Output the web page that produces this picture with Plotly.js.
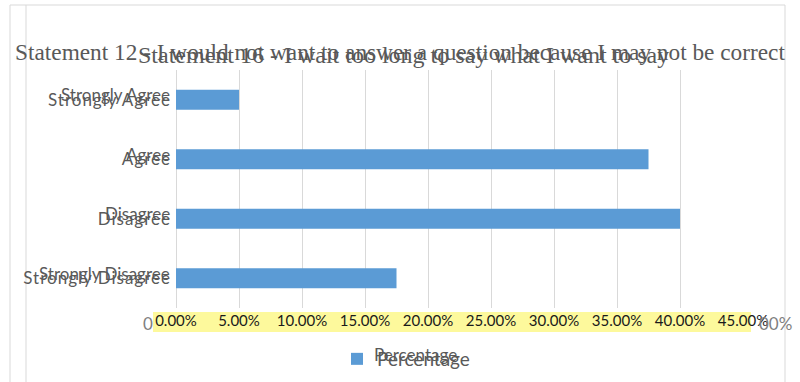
<!DOCTYPE html>
<html>
<head>
<meta charset="utf-8">
<script src="https://cdn.plot.ly/plotly-3.0.1.min.js"></script>
<style>
html,body{margin:0;padding:0;background:#fff;}
#chart{width:800px;height:382px;}
#chart .ytick text{letter-spacing:1px;}
</style>
</head>
<body>
<div id="chart"></div>
<script>
// ---- data ----
const categories = ['Strongly Agree', 'Agree', 'Disagree', 'Strongly Disagree'];
const percentages = [0.05, 0.375, 0.40, 0.175];
const seriesName = 'Percentage';
const xTickValues = [0, 0.05, 0.10, 0.15, 0.20, 0.25, 0.30, 0.35, 0.40, 0.45];
const xTickLabels = ['0.00%', '5.00%', '10.00%', '15.00%', '20.00%', '25.00%', '30.00%', '35.00%', '40.00%', '45.00%'];
const titleText = 'Statement 12 - I would not want to answer a question because I may not be correct';
const ghostTitleText = 'Statement 16 - I wait too long to say what I want to say';

// ---- geometry (pixels) ----
const W = 800, H = 382;
const M = {l: 176, r: 57, t: 70, b: 74};
const PW = W - M.l - M.r, PH = H - M.t - M.b;
const px = x => (x - M.l) / PW;
const py = y => (H - M.b - y) / PH;

const grey = '#595959';
const sans = 'Lato, "Open Sans", sans-serif';
const serif = '"Liberation Serif", "DejaVu Serif", serif';

const trace = {
  type: 'bar', orientation: 'h',
  y: categories, x: percentages, name: seriesName,
  marker: {color: '#5b9bd5'}, width: 0.34,
  hoverinfo: 'none'
};

const line = (x0, y0, x1, y1) => ({type: 'line', xref: 'paper', yref: 'paper',
  x0: px(x0), y0: py(y0), x1: px(x1), y1: py(y1), line: {color: '#d9d9d9', width: 1}, layer: 'below'});

const shapes = [
  line(10, 5, 785, 5),
  line(10, 5, 10, 382),
  line(26, 5, 26, 382),
  line(785, 5, 785, 382),
  {type: 'rect', xref: 'paper', yref: 'paper', x0: px(153), x1: px(751), y0: py(312), y1: py(332),
   fillcolor: '#fdf99c', line: {width: 0}, layer: 'below'}
];

const annotations = [
  {text: ghostTitleText, xref: 'paper', yref: 'paper', x: px(403), y: py(55), xanchor: 'center', yanchor: 'middle',
   showarrow: false, font: {family: serif, size: 24, color: grey}},
  {text: '0', xref: 'paper', yref: 'paper', x: px(155), y: py(323), xanchor: 'right', yanchor: 'middle',
   showarrow: false, font: {family: sans, size: 17, color: '#7f7f7f'}},
  {text: '00%', xref: 'paper', yref: 'paper', x: px(757), y: py(323), xanchor: 'left', yanchor: 'middle',
   showarrow: false, font: {family: sans, size: 17, color: '#7f7f7f'}},
  {text: seriesName, xref: 'paper', yref: 'paper', x: px(372), y: py(354), xanchor: 'left', yanchor: 'middle',
   showarrow: false, font: {family: sans, size: 17, color: grey}}
];
categories.forEach(c => annotations.push({
  text: c, xref: 'paper', yref: 'y', x: 0, y: c, xshift: -4, yshift: 5, xanchor: 'right', yanchor: 'middle',
  showarrow: false, font: {family: sans, size: 17, color: grey}
}));

const layout = {
  width: W, height: H, autosize: false,
  margin: M,
  paper_bgcolor: '#fff', plot_bgcolor: 'rgba(0,0,0,0)',
  title: {text: titleText, x: 0.5, xanchor: 'center', xref: 'container', y: 1 - 52 / H, yanchor: 'middle', yref: 'container',
    font: {family: serif, size: 23.3, color: grey}},
  xaxis: {range: [0, 0.45], tickvals: xTickValues, ticktext: xTickLabels, showgrid: true, gridcolor: '#d9d9d9', gridwidth: 1,
    zeroline: true, zerolinecolor: '#d9d9d9', zerolinewidth: 1, showline: false, ticks: '', fixedrange: true,
    ticklabelstandoff: 2, tickfont: {family: sans, size: 15, color: '#1a1a1a'}},
  yaxis: {type: 'category', autorange: 'reversed', showgrid: false, zeroline: false, showline: false, ticks: '',
    ticklabelstandoff: 4, tickfont: {family: sans, size: 17, color: grey}, fixedrange: true},
  showlegend: true,
  legend: {orientation: 'h', xref: 'container', yref: 'container', x: 0.5075, xanchor: 'center', y: 1 - 359 / H, yanchor: 'middle',
    font: {family: sans, size: 19, color: grey}, bgcolor: 'rgba(0,0,0,0)'},
  shapes: shapes, annotations: annotations, bargap: 0.66
};

Plotly.newPlot('chart', [trace], layout, {displayModeBar: false, staticPlot: true});
</script>
</body>
</html>
